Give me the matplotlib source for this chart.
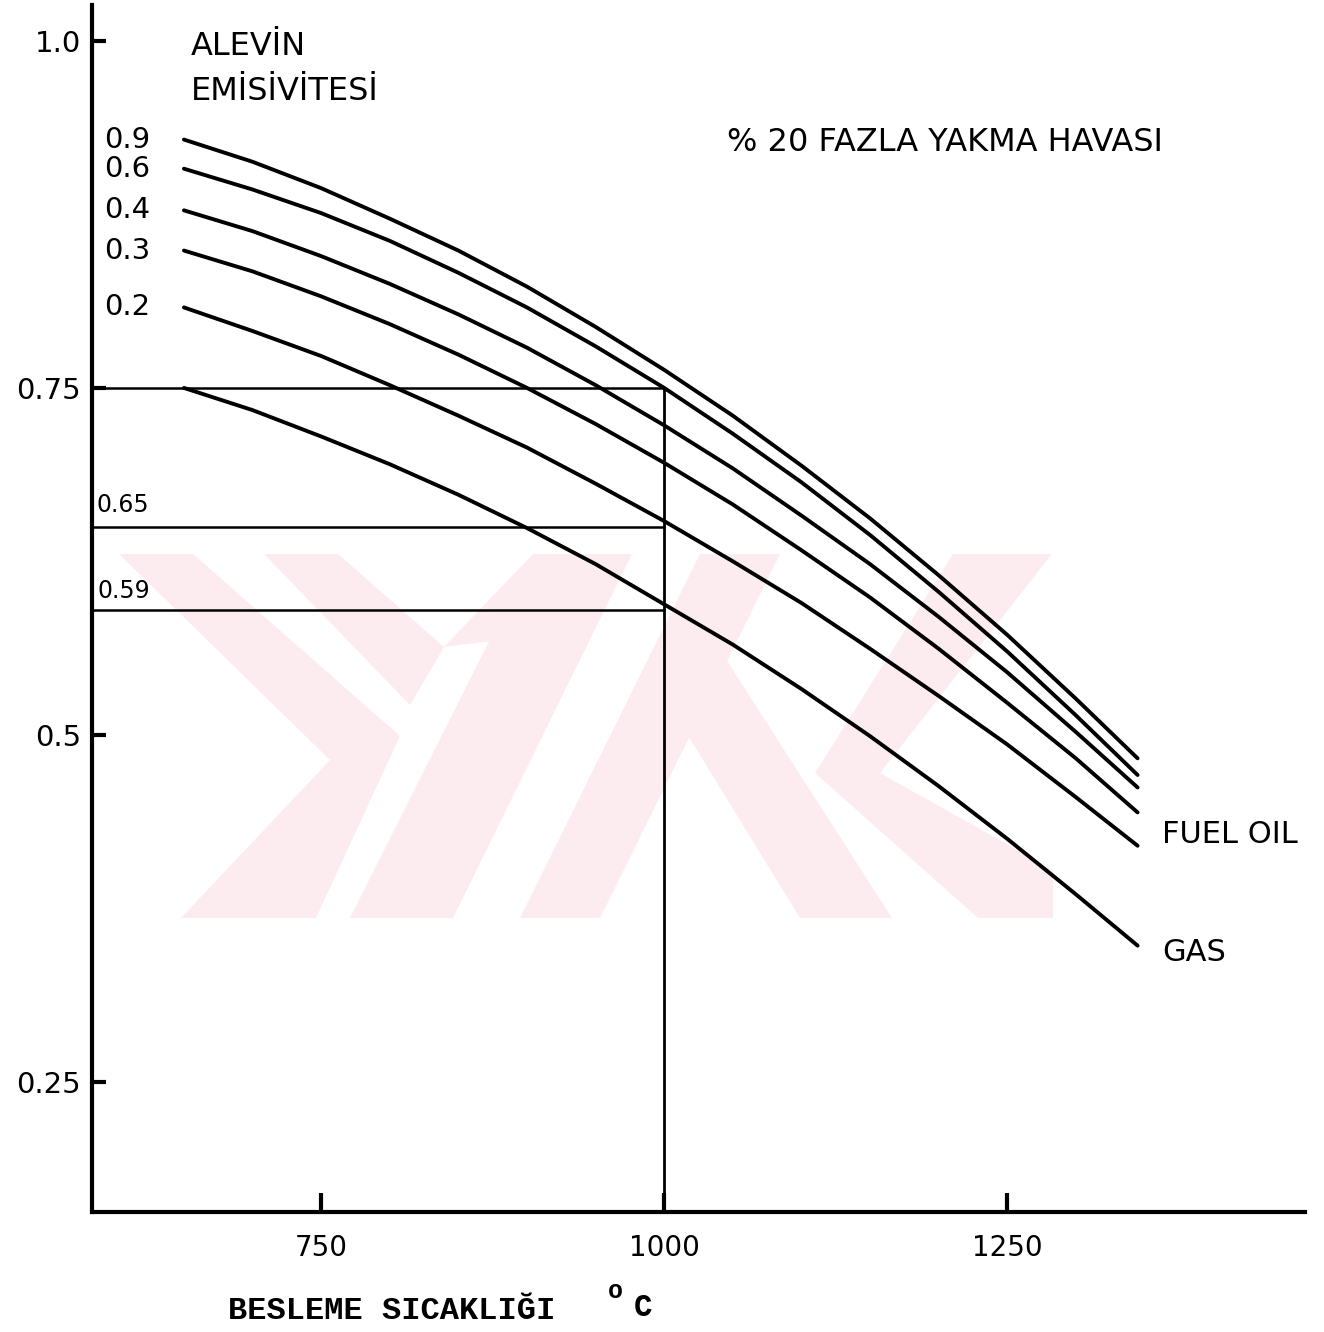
import matplotlib
matplotlib.use("Agg")
import matplotlib.pyplot as plt
from matplotlib.patches import Polygon

# besleme sicakligi (C) ve alev emisivitesi egrileri
temp = [650, 700, 750, 800, 850, 900, 950, 1000, 1050, 1100, 1150, 1200, 1250, 1300, 1345]
e09 = [0.929, 0.913, 0.894, 0.872, 0.849, 0.823, 0.794, 0.763, 0.730, 0.694, 0.656, 0.615, 0.572, 0.526, 0.483]
e06 = [0.908, 0.893, 0.876, 0.856, 0.833, 0.808, 0.780, 0.750, 0.717, 0.682, 0.644, 0.603, 0.560, 0.514, 0.471]
e04 = [0.878, 0.863, 0.845, 0.825, 0.803, 0.779, 0.752, 0.723, 0.692, 0.658, 0.623, 0.585, 0.545, 0.502, 0.462]
e03 = [0.849, 0.834, 0.816, 0.796, 0.774, 0.750, 0.724, 0.696, 0.666, 0.633, 0.599, 0.562, 0.523, 0.483, 0.444]
e02 = [0.808, 0.791, 0.773, 0.752, 0.730, 0.707, 0.681, 0.654, 0.625, 0.595, 0.562, 0.528, 0.493, 0.455, 0.420]
gas = [0.750, 0.734, 0.715, 0.695, 0.673, 0.649, 0.623, 0.594, 0.565, 0.533, 0.499, 0.463, 0.425, 0.385, 0.348]
curve_labels = ["0.9", "0.6", "0.4", "0.3", "0.2"]

# okuma cizgileri
read_temp = 1000
read_levels = [0.75, 0.65, 0.59]

y_ticks = [0.25, 0.5, 0.75, 1.0]
y_ticklabels = ["0.25", "0.5", "0.75", "1.0"]
x_ticks = [750, 1000, 1250]
x_ticklabels = ["750", "1000", "1250"]

W, H = 1324, 1332
fig = plt.figure(figsize=(W / 100, H / 100), dpi=100)


def fx(x, y):
    return (x / W, 1 - y / H)


# soluk pembe filigran
pink = "#fdecef"
shapes = [
    [(119, 554), (193, 554), (400, 736), (330, 760)],
    [(330, 760), (400, 736), (316, 918), (181, 918)],
    [(264, 554), (338, 554), (444, 647), (410, 705)],
    [(533, 554), (632, 554), (453, 918), (350, 918)],
    [(444, 647), (533, 554), (500, 640)],
    [(953, 554), (1052, 554), (880, 773), (815, 773)],
    [(815, 773), (880, 773), (1053, 870), (1053, 918), (978, 918)],
    [(700, 554), (780, 554), (600, 918), (520, 918)],
    [(660, 690), (720, 650), (892, 918), (800, 918)],
]
for s in shapes:
    fig.patches.append(Polygon([fx(x, y) for x, y in s], closed=True,
                               transform=fig.transFigure, facecolor=pink,
                               edgecolor="none", zorder=-5))

ax = fig.add_axes([92 / W, 1 - 1212 / H, 1213 / W, 1207 / H])
ax.set_zorder(1)
ax.patch.set_alpha(0)

for e in [e09, e06, e04, e03, e02, gas]:
    ax.plot(temp, e, color="black", lw=2.8, solid_capstyle="round", zorder=3)

for lab, e in zip(curve_labels, [e09, e06, e04, e03, e02]):
    ax.text(609, e[0], lab, ha="center", va="center", fontsize=21)

# okuma cizgileri
for lv in read_levels:
    ax.plot([583, read_temp], [lv, lv], color="black", lw=1.8, zorder=2)
ax.plot([read_temp, read_temp], [0.156, read_levels[0]], color="black", lw=2, zorder=2)
ax.text(586, 0.657, "0.65", ha="left", va="bottom", fontsize=17)
ax.text(587, 0.595, "0.59", ha="left", va="bottom", fontsize=17)

ax.text(655, 0.996, "ALEVİN", ha="left", va="center", fontsize=23)
ax.text(655, 0.964, "EMİSİVİTESİ", ha="left", va="center", fontsize=23)
ax.text(1046, 0.927, "% 20 FAZLA YAKMA HAVASI", ha="left", va="center", fontsize=23)
ax.text(1363, 0.428, "FUEL OIL", ha="left", va="center", fontsize=22)
ax.text(1363, 0.343, "GAS", ha="left", va="center", fontsize=22)

ax.set_xlim(583, 1467)
ax.set_ylim(0.156, 1.026)
for side in ["top", "right"]:
    ax.spines[side].set_visible(False)
for side in ["left", "bottom"]:
    ax.spines[side].set_linewidth(3)
ax.set_yticks(y_ticks, y_ticklabels, fontsize=21)
ax.set_xticks(x_ticks, x_ticklabels, fontsize=20)
ax.tick_params(axis="y", direction="in", length=10, width=3, pad=8)
ax.tick_params(axis="x", direction="in", length=14, width=3, pad=16)

fig.text(*fx(228, 1311), "BESLEME SICAKLIĞI", ha="left", va="center",
         fontsize=23, family="Liberation Mono", fontweight="bold")
fig.text(*fx(615, 1291), "o", ha="center", va="center",
         fontsize=18, family="Liberation Mono", fontweight="bold")
fig.text(*fx(643, 1308), "C", ha="center", va="center",
         fontsize=22, family="Liberation Mono", fontweight="bold")

fig.savefig("out.png", dpi=100)
